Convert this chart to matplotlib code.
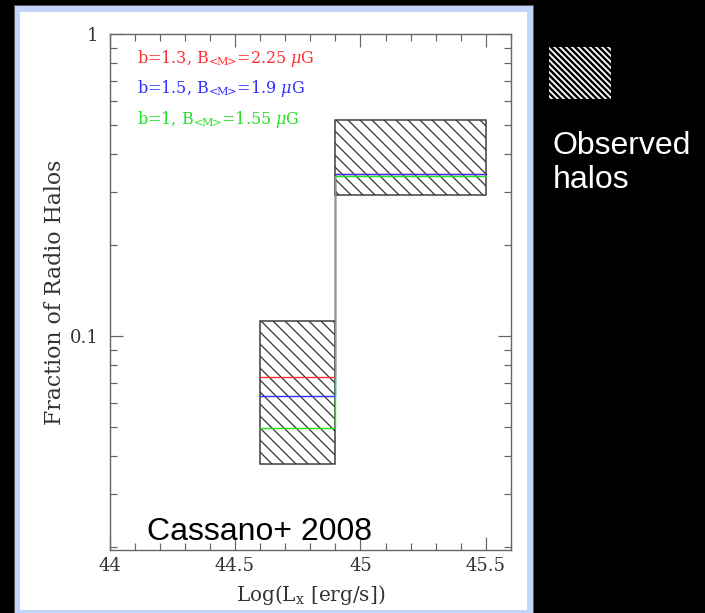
import matplotlib
matplotlib.use('Agg')
import matplotlib.pyplot as plt
from matplotlib.patches import Rectangle
from matplotlib.ticker import LogLocator, MultipleLocator, FixedLocator, NullFormatter

# observed fractions (hatched boxes): bin edges and lower/upper bounds
obs_lo_edges = [44.6, 44.9]
obs_hi_edges = [44.9, 45.5]
obs_lo_range = [0.0375, 0.112]
obs_hi_range = [0.292, 0.518]

# model predictions, one value per bin
bin_edges = [44.6, 44.9, 45.5]
sub = '$_{\\!<\\!\\!\\mathrm{M}\\!\\!>\\!}$'
models = ['b=1.3, B' + sub + '=2.25 $\\mu$G',
          'b=1.5, B' + sub + '=1.9 $\\mu$G',
          'b=1, B' + sub + '=1.55 $\\mu$G']
model_colors = ['#ff3030', '#3030ff', '#22e022']
model_vals = [[0.0730, 0.344],
              [0.0630, 0.344],
              [0.0494, 0.338]]

DPI = 72
W, H = 705, 613
plt.rcParams['mathtext.fontset'] = 'dejavuserif'
plt.rcParams['hatch.linewidth'] = 1.3

fig = plt.figure(figsize=(W / DPI, H / DPI), dpi=DPI, facecolor='black')

def px(x0, y0, x1, y1):
    # pixel box (top-down) -> figure fraction rect
    return (x0 / W, 1 - y1 / H), (x1 - x0) / W, (y1 - y0) / H

# slide frame: light blue border with white panel (behind the axes)
xy, w, h = px(14, 5, 533, 613)
fig.patches.append(Rectangle(xy, w, h, transform=fig.transFigure, zorder=-10,
                             facecolor='#c2d4fb', edgecolor='#555555', lw=0.8))
xy, w, h = px(20, 12, 527, 610)
fig.patches.append(Rectangle(xy, w, h, transform=fig.transFigure, zorder=-9,
                             facecolor='white', edgecolor='none'))

ax = fig.add_axes([109.5 / W, 1 - 550 / H, (511 - 109.5) / W, (550 - 34) / H])
ax.set_facecolor('white')
ax.set_yscale('log')
ax.set_xlim(44, 45.6)
ax.set_ylim(0.0195, 1)

for edges, rng in [(obs_lo_edges, obs_lo_range), (obs_hi_edges, obs_hi_range)]:
    ax.add_patch(Rectangle((edges[0], rng[0]), edges[1] - edges[0], rng[1] - rng[0],
                           facecolor='none', edgecolor='#3a3a3a', hatch='\\\\',
                           lw=1.5, zorder=2))

for vals, c in zip(model_vals, model_colors):
    ax.step(bin_edges, vals + [vals[-1]], where='post', color=c, lw=1.4, zorder=3)

for i, (lab, c) in enumerate(zip(models, model_colors)):
    ax.text(0.068, 0.953 - i * 0.059, lab, transform=ax.transAxes, color=c,
            fontsize=16, family='DejaVu Serif', va='center', ha='left')

ax.text(0.093, 0.019, 'Cassano+ 2008', transform=ax.transAxes, color='black',
        fontsize=32, family='Liberation Sans', va='baseline', ha='left')

# ticks
ax.xaxis.set_major_locator(FixedLocator([44, 44.5, 45, 45.5]))
ax.xaxis.set_minor_locator(MultipleLocator(0.1))
ax.xaxis.set_major_formatter(plt.FuncFormatter(lambda v, p: f'{v:g}'))
ax.yaxis.set_major_locator(FixedLocator([0.1, 1]))
ax.yaxis.set_minor_locator(LogLocator(base=10, subs=range(2, 10)))
ax.yaxis.set_major_formatter(plt.FuncFormatter(lambda v, p: f'{v:g}'))
ax.yaxis.set_minor_formatter(NullFormatter())
ax.tick_params(which='both', direction='in', top=True, right=True, color='#666666',
               width=1.2, labelsize=18, labelcolor='#333333')
ax.tick_params(which='major', length=13)
ax.tick_params(which='minor', length=7)
ax.tick_params(axis='x', pad=7)
ax.tick_params(axis='y', pad=11)
for lab in ax.get_xticklabels() + ax.get_yticklabels():
    lab.set_family('DejaVu Serif')
for s in ax.spines.values():
    s.set_color('#666666')
    s.set_linewidth(1.4)

ax.set_xlabel('Log(L$_{\\mathrm{x}}$ [erg/s])', fontsize=20, family='DejaVu Serif',
              color='#333333', labelpad=8)
ax.set_ylabel('Fraction of Radio Halos', fontsize=22, family='DejaVu Serif',
              color='#333333')
ax.yaxis.set_label_coords(-0.108, 0.5)

# legend swatch on the black side
xy, w, h = px(549, 47, 611, 99)
with plt.rc_context({'hatch.linewidth': 2.4}):
    fig.patches.append(Rectangle(xy, w, h, transform=fig.transFigure,
                                 facecolor='white', edgecolor='black', lw=0,
                                 hatch='\\\\\\\\'))
fig.text(553 / W, 1 - 163 / H, 'Observed\nhalos', color='white', fontsize=32,
         family='Liberation Sans', va='center', ha='left', linespacing=1.2)

fig.savefig('out.png', dpi=DPI, facecolor='black')
